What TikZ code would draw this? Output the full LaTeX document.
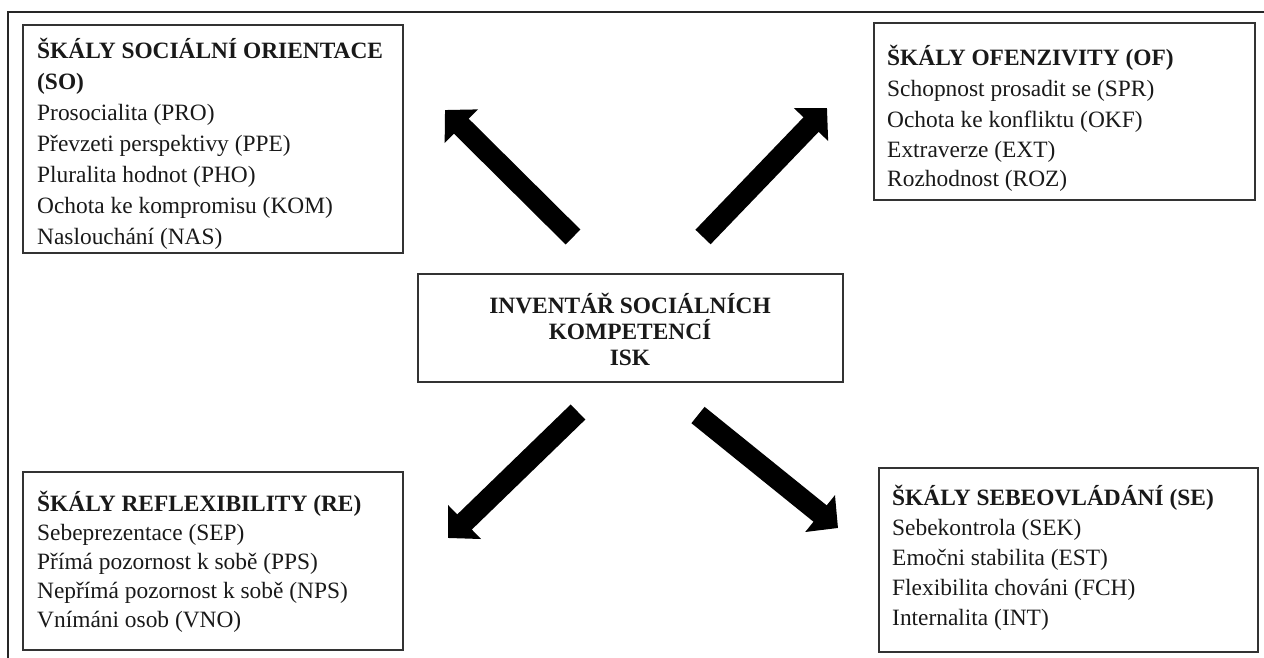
\documentclass[tikz,border=0pt]{standalone}
\usepackage{fontspec}
\setmainfont{Liberation Serif}
\usetikzlibrary{arrows.meta}
\begin{document}
\begin{tikzpicture}[x=1pt,y=-1pt,
  box/.style={draw=black!80, line width=2pt, inner sep=0pt, outer sep=0pt, anchor=north west},
  txt/.style={anchor=base west, inner sep=0pt, font=\fontsize{23.4}{28}\selectfont, text=black!90},
  ttl/.style={txt, font=\fontsize{23.4}{28}\selectfont\bfseries},
  ctr/.style={ttl, anchor=base},
  bigarrow/.style={line width=21pt, -{Triangle[length=23pt,width=46pt]}, black}]
\useasboundingbox (0,0) rectangle (1264,657);
\clip (0,0) rectangle (1264,657);
\draw[line width=2pt, black!85] (8,12) rectangle (1290,690);

% boxes
\node[box, minimum width=380, minimum height=228] (so) at (23,25) {};
\node[box, minimum width=381, minimum height=177] (of) at (874,23) {};
\node[box, minimum width=425, minimum height=108] (isk) at (418,274) {};
\node[box, minimum width=380, minimum height=178] (re) at (23,472) {};
\node[box, minimum width=379, minimum height=184] (se) at (879,468) {};

% SO texts
\node[ttl] (so1) at (37,58) {ŠKÁLY SOCIÁLNÍ ORIENTACE};
\node[ttl] (so2) at (37,89) {(SO)};
\node[txt] (so3) at (37,120) {Prosocialita (PRO)};
\node[txt] (so4) at (37,151) {Převzeti perspektivy (PPE)};
\node[txt] (so5) at (37,182) {Pluralita hodnot (PHO)};
\node[txt] (so6) at (37,213) {Ochota ke kompromisu (KOM)};
\node[txt] (so7) at (37,244) {Naslouchání (NAS)};

% OF texts
\node[ttl] (of1) at (887,65) {ŠKÁLY OFENZIVITY (OF)};
\node[txt] (of2) at (887,96) {Schopnost prosadit se (SPR)};
\node[txt] (of3) at (887,127) {Ochota ke konfliktu (OKF)};
\node[txt] (of4) at (887,157) {Extraverze (EXT)};
\node[txt] (of5) at (887,186) {Rozhodnost (ROZ)};

% center texts
\node[ctr] (isk1) at (630,313) {INVENTÁŘ SOCIÁLNÍCH};
\node[ctr] (isk2) at (630,339) {KOMPETENCÍ};
\node[ctr] (isk3) at (630,365) {ISK};

% RE texts
\node[ttl] (re1) at (37,511) {ŠKÁLY REFLEXIBILITY (RE)};
\node[txt] (re2) at (37,540) {Sebeprezentace (SEP)};
\node[txt] (re3) at (37,569) {Přímá pozornost k sobě (PPS)};
\node[txt] (re4) at (37,598) {Nepřímá pozornost k sobě (NPS)};
\node[txt] (re5) at (37,627) {Vnímáni osob (VNO)};

% SE texts
\node[ttl] (se1) at (892,505) {ŠKÁLY SEBEOVLÁDÁNÍ (SE)};
\node[txt] (se2) at (892,535) {Sebekontrola (SEK)};
\node[txt] (se3) at (892,565) {Emočni stabilita (EST)};
\node[txt] (se4) at (892,595) {Flexibilita chováni (FCH)};
\node[txt] (se5) at (892,625) {Internalita (INT)};

% arrows
\coordinate (nwS) at (573,237);
\coordinate (nwE) at (445,110);
\coordinate (neS) at (703,237);
\coordinate (neE) at (827,108);
\coordinate (swS) at (578,412);
\coordinate (swE) at (448,538);
\coordinate (seS) at (698,415);
\coordinate (seE) at (838,528);
\draw[bigarrow] (nwS) -- (nwE);
\draw[bigarrow] (neS) -- (neE);
\draw[bigarrow] (swS) -- (swE);
\draw[bigarrow] (seS) -- (seE);
\end{tikzpicture}
\end{document}
